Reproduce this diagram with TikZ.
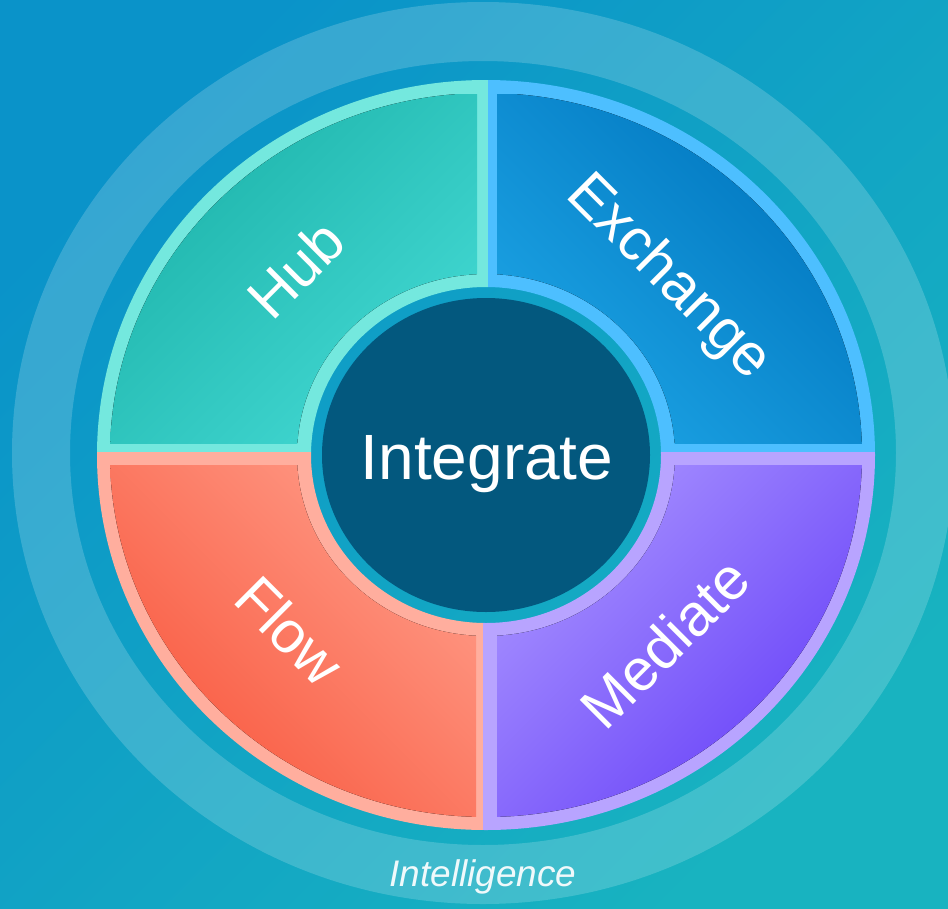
\documentclass[tikz,border=0pt]{standalone}
\usepackage{fontspec}
\setmainfont{Liberation Sans}
\begin{document}
\begin{tikzpicture}[x=1pt,y=1pt,
  lbl/.style={text=white,inner sep=0pt,font=\fontsize{59}{66}\selectfont},
  ctr/.style={text=white,inner sep=0pt,font=\fontsize{64}{72}\selectfont},
  foot/.style={text=white,opacity=0.92,inner sep=0pt,font=\fontsize{37}{42}\selectfont\itshape}]
\definecolor{bgA}{HTML}{0A93C9}
\definecolor{bgB}{HTML}{18B3C0}
\definecolor{hubS}{HTML}{74E8DE}
\definecolor{hubD}{HTML}{1DB3AA}
\definecolor{hubL}{HTML}{42D8D2}
\definecolor{exS}{HTML}{4DBFFF}
\definecolor{exD}{HTML}{0075BE}
\definecolor{exL}{HTML}{1CA3E4}
\definecolor{flS}{HTML}{FFAE9E}
\definecolor{flD}{HTML}{F8573D}
\definecolor{flL}{HTML}{FF9A86}
\definecolor{meS}{HTML}{B8A4FF}
\definecolor{meD}{HTML}{6740F8}
\definecolor{meL}{HTML}{A690FF}
\definecolor{navy}{HTML}{03587E}
\useasboundingbox (0,0) rectangle (948,-908);
\fill[top color=bgA,bottom color=bgB,shading angle=45] (0,0) rectangle (948,-908);
\coordinate (C) at (486,-455);
\coordinate (R) at (483,-453);
% outer translucent ring
\fill[white,opacity=0.18,even odd rule] (R) ellipse [x radius=471,y radius=451] (R) ellipse [x radius=413,y radius=392];
% segment borders
\begin{scope}[even odd rule]
\clip (C) ellipse [x radius=389,y radius=375] (C) ellipse [x radius=175,y radius=168];
\fill[hubS] (90,-70) rectangle (488,-452);
\fill[exS] (488,-70) rectangle (885,-452);
\fill[flS] (90,-452) rectangle (483,-840);
\fill[meS] (483,-452) rectangle (885,-840);
\end{scope}
% segment fills
\begin{scope}[even odd rule]
\clip (C) ellipse [x radius=376,y radius=362] (C) ellipse [x radius=189,y radius=181];
\fill[top color=hubD,bottom color=hubL,shading angle=45] (110,-94) rectangle (477,-443);
\fill[top color=exD,bottom color=exL,shading angle=-45] (497,-94) rectangle (862,-443);
\fill[top color=flL,bottom color=flD,shading angle=-45] (110,-465) rectangle (476,-820);
\fill[top color=meL,bottom color=meD,shading angle=45] (497,-465) rectangle (862,-818);
\end{scope}
% centre
\fill[navy] (C) ellipse [x radius=164,y radius=157];
\node[ctr,anchor=base] (integrate) at (487,-479) {Integrate};
\node[lbl,rotate=45] (hub) at (296,-269) {Hub};
\node[lbl,rotate=-45] (exchange) at (668,-278) {Exchange};
\node[lbl,rotate=-45] (flow) at (290,-631) {Flow};
\node[lbl,rotate=45] (mediate) at (665,-643) {Mediate};
\node[foot,anchor=base] (intelligence) at (483,-886) {Intelligence};
\end{tikzpicture}
\end{document}
